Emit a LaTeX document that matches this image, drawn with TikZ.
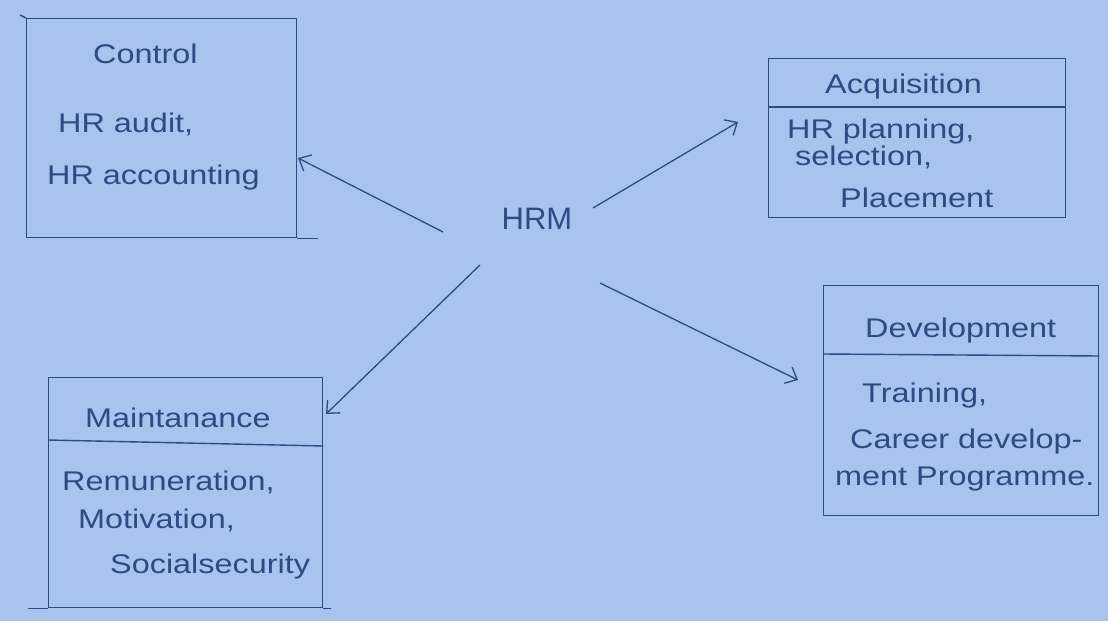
\documentclass[tikz,border=0pt]{standalone}
\usepackage{fontspec}
\setmainfont{Liberation Sans}
\newfontfamily\hand[FakeStretch=1.2]{Liberation Sans}
\usetikzlibrary{arrows.meta}
\definecolor{paper}{HTML}{A8C3EE}
\definecolor{ink}{HTML}{2C4B84}
\begin{document}
\begin{tikzpicture}[x=1pt,y=-1pt,
  box/.style={draw=ink,line width=1.4pt,rectangle,inner sep=0pt,anchor=north west},
  txt/.style={text=ink,font=\hand\fontsize{27}{30}\selectfont,inner sep=0pt,anchor=base west},
  arr/.style={draw=ink,line width=1.3pt,-{Straight Barb[length=10pt,width=18pt,line width=1.3pt]}},
  divider/.style={draw=ink,line width=1.4pt}]
\fill[paper] (0,0) rectangle (1108,621);
\useasboundingbox (0,0) rectangle (1108,621);
% Control
\node[box,minimum width=270pt,minimum height=219pt] (control) at (26,18) {};
\draw[divider] (control.south east) -- ++(21,0);
\draw[divider] (control.north west) -- ++(-6,-3);
\node[txt] (controlt) at (93,63) {Control};
\node[txt] (control1) at (58,132) {HR audit,};
\node[txt] (control2) at (47,184) {HR accounting};
% Acquisition
\node[box,minimum width=297pt,minimum height=159pt] (acq) at (768,58) {};
\draw[divider] (acq.west |- 0,107) -- (acq.east |- 0,107);
\node[txt] (acqt) at (825,93) {Acquisition};
\node[txt] (acq1) at (787,138) {HR planning,};
\node[txt] (acq2) at (795,165) {selection,};
\node[txt] (acq3) at (840,207) {Placement};
% Development
\node[box,minimum width=275pt,minimum height=230pt] (dev) at (823,285) {};
\draw[divider] (dev.west |- 0,354) -- (dev.east |- 0,356);
\node[txt] (devt) at (865,337) {Development};
\node[txt] (dev1) at (862,402) {Training,};
\node[txt] (dev2) at (850,448) {Career develop-};
\node[txt] (dev3) at (835,485) {ment Programme.};
% Maintenance
\node[box,minimum width=274pt,minimum height=230pt] (main) at (48,377) {};
\draw[divider] (main.south west) -- ++(-20,0);
\draw[divider] (main.south east) -- ++(8,0);
\draw[divider] (main.west |- 0,440) -- (main.east |- 0,446);
\node[txt] (maint) at (85,427) {Maintanance};
\node[txt] (main1) at (62,490) {Remuneration,};
\node[txt] (main2) at (78,528) {Motivation,};
\node[txt] (main3) at (110,573) {Socialsecurity};
% HRM
\node[text=ink,font=\fontsize{31}{34}\selectfont,inner sep=0pt] (hrm) at (537,219) {HRM};
\coordinate (s1) at (443,232);
\coordinate (s2) at (593,208);
\coordinate (s3) at (480,265);
\coordinate (s4) at (600,283);
\coordinate (e1) at (298,158);
\coordinate (e2) at (738,122);
\coordinate (e3) at (326,414);
\coordinate (e4) at (798,380);
\draw[arr] (s1) -- (e1);
\draw[arr] (s2) -- (e2);
\draw[arr] (s3) -- (e3);
\draw[arr] (s4) -- (e4);
\end{tikzpicture}
\end{document}
